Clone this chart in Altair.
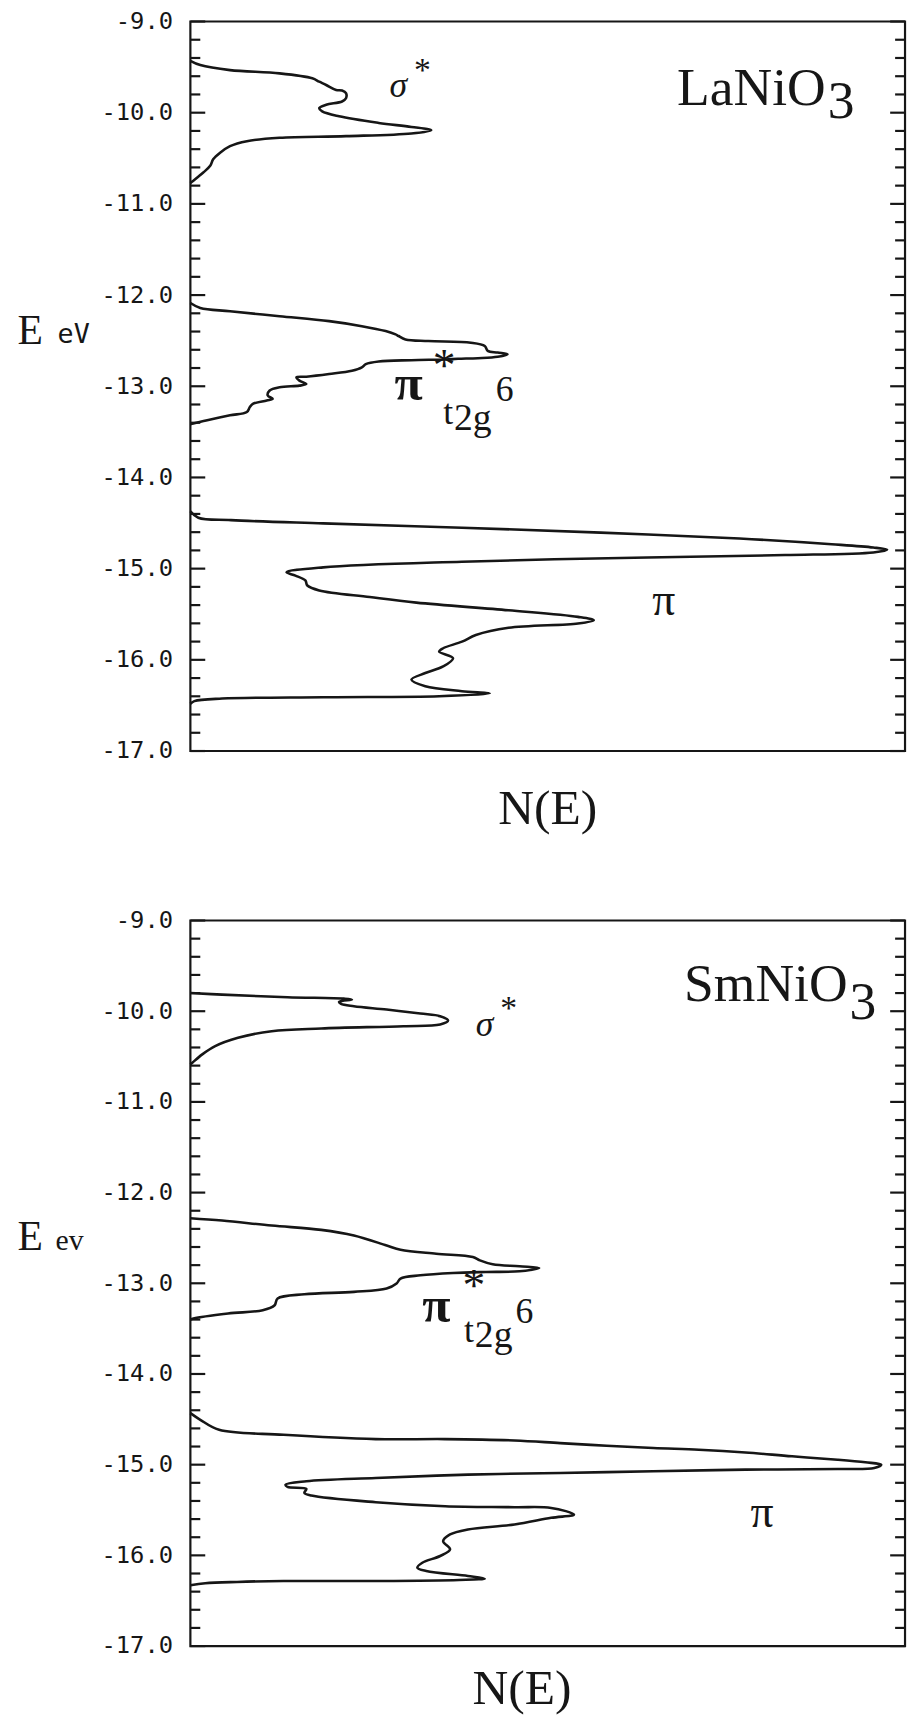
import altair as alt
import pandas as pd

# ---------------- data (E in eV, N(E) in arbitrary units) ----------------
# LaNiO3
la_sigma_N = [0, 10, 40, 90, 123, 130, 137, 147, 153, 157, 157, 153, 137, 130, 133, 150, 190, 223, 243, 223,
              157, 90, 57, 40, 30, 23, 20, 13, 3, 0]
la_sigma_E = [-9.431, -9.478, -9.533, -9.569, -9.623, -9.660, -9.696, -9.750, -9.757, -9.786, -9.841, -9.877,
              -9.913, -9.949, -9.986, -10.040, -10.112, -10.156, -10.192, -10.228, -10.257, -10.275, -10.312,
              -10.366, -10.438, -10.511, -10.583, -10.656, -10.746, -10.772]

la_pistar_N = [0, 10, 40, 90, 140, 173, 197, 207, 210, 217, 240, 283, 297, 300, 310, 320, 310, 290, 270, 257,
               223, 190, 177, 173, 163, 140, 117, 107, 110, 117, 110, 90, 80, 78, 83, 77, 63, 60, 57, 40,
               17, 3, 0]
la_pistar_E = [-12.087, -12.141, -12.178, -12.232, -12.286, -12.341, -12.395, -12.431, -12.449, -12.486,
               -12.504, -12.522, -12.558, -12.612, -12.630, -12.649, -12.677, -12.692, -12.699, -12.706,
               -12.714, -12.728, -12.757, -12.793, -12.830, -12.866, -12.895, -12.902, -12.938, -12.975,
               -12.993, -13.011, -13.047, -13.101, -13.138, -13.156, -13.192, -13.228, -13.282, -13.319,
               -13.373, -13.409, -13.416]

la_pi_N = [0, 8, 41, 134, 274, 414, 554, 647, 689, 703, 689, 600, 461, 274, 134, 97, 106, 116, 118, 130,
           181, 228, 321, 391, 407, 391, 321, 288, 274, 255, 251, 265, 255, 237, 223, 237, 274, 302, 251, 134,
           32, 4, 0]
la_pi_E = [-14.370, -14.442, -14.468, -14.504, -14.551, -14.605, -14.670, -14.732, -14.768, -14.793,
           -14.822, -14.851, -14.877, -14.924, -14.986, -15.040, -15.076, -15.130, -15.185, -15.239,
           -15.312, -15.373, -15.457, -15.529, -15.565, -15.601, -15.649, -15.728, -15.801, -15.873,
           -15.910, -15.982, -16.073, -16.145, -16.217, -16.290, -16.344, -16.370, -16.399, -16.410,
           -16.425, -16.453, -16.482]

# SmNiO3
sm_sigma_N = [0, 32, 98, 155, 163, 150, 152, 165, 198, 232, 252, 260, 252, 215, 132, 82, 48, 25, 12, 2, 0]
sm_sigma_E = [-9.799, -9.817, -9.846, -9.861, -9.872, -9.897, -9.919, -9.945, -9.982, -10.026, -10.055,
              -10.103, -10.146, -10.165, -10.190, -10.220, -10.293, -10.385, -10.476, -10.568, -10.586]

sm_pistar_N = [0, 32, 82, 132, 165, 198, 212, 248, 285, 292, 305, 332, 352, 332, 298, 265, 232, 212, 208, 198,
               165, 115, 88, 85, 73, 38, 3, 0]
sm_pistar_E = [-12.282, -12.308, -12.363, -12.411, -12.473, -12.583, -12.630, -12.674, -12.711, -12.747,
               -12.791, -12.813, -12.832, -12.868, -12.875, -12.886, -12.912, -12.948, -13.003, -13.058,
               -13.095, -13.121, -13.168, -13.242, -13.297, -13.333, -13.388, -13.399]

sm_pi_N = [0, 10, 29, 94, 187, 257, 327, 373, 420, 467, 513, 560, 607, 653, 681, 697, 690, 653, 560, 467,
           373, 280, 187, 117, 96, 98, 117, 115, 122, 187, 257, 327, 364, 387, 364, 327, 280, 262, 255, 262,
           252, 234, 229, 238, 280, 297, 271, 187, 94, 47, 15, 0]
sm_pi_E = [-14.432, -14.505, -14.615, -14.670, -14.718, -14.718, -14.733, -14.762, -14.791, -14.817,
           -14.835, -14.865, -14.908, -14.945, -14.974, -15.000, -15.037, -15.048, -15.055, -15.073,
           -15.092, -15.110, -15.147, -15.183, -15.220, -15.245, -15.267, -15.311, -15.341, -15.414,
           -15.458, -15.469, -15.477, -15.550, -15.586, -15.659, -15.714, -15.769, -15.843, -15.934,
           -16.007, -16.081, -16.136, -16.172, -16.227, -16.256, -16.271, -16.282, -16.282, -16.293,
           -16.308, -16.330]

major_ticks = [-9.0, -10.0, -11.0, -12.0, -13.0, -14.0, -15.0, -16.0, -17.0]
minor_ticks = [-9.2, -9.4, -9.6, -9.8, -10.2, -10.4, -10.6, -10.8, -11.2, -11.4, -11.6, -11.8,
               -12.2, -12.4, -12.6, -12.8, -13.2, -13.4, -13.6, -13.8, -14.2, -14.4, -14.6, -14.8,
               -15.2, -15.4, -15.6, -15.8, -16.2, -16.4, -16.6, -16.8]

# ---------------- style ----------------
INK = "#161616"
SERIF = "Liberation Serif"
MONO = "DejaVu Sans Mono"
W = 721
N_MAX = 721

xscale = alt.Scale(domain=[0, N_MAX], nice=False, zero=False)
yscale = alt.Scale(domain=[-17, -9], nice=False, zero=False)


def curves_df(bands):
    rows = []
    for name, ns, es in bands:
        for i, (n, e) in enumerate(zip(ns, es)):
            rows.append({"band": name, "i": i, "N": n, "E": e})
    return pd.DataFrame(rows)


def panel(bands, height, e_title_y, ne_x, ne_y, label_specs):
    df = curves_df(bands)
    xaxis = alt.Axis(title="N(E)", labels=False, ticks=False, domain=False, grid=False,
                     titleFont=SERIF, titleFontSize=50, titleFontWeight="normal", titleColor=INK,
                     titleX=ne_x, titleY=ne_y, titleAlign="center", titleBaseline="alphabetic")
    yaxis = alt.Axis(values=major_ticks, labelExpr="'-' + format(abs(datum.value), '.1f')",
                     labelFont=MONO, labelFontSize=24, labelColor=INK, labelPadding=18,
                     ticks=False, tickSize=0, domain=False, grid=False,
                     title="E", titleFont=SERIF, titleFontSize=42, titleFontWeight="normal",
                     titleColor=INK, titleAngle=0, titleAlign="left", titleBaseline="alphabetic",
                     titleX=-175, titleY=e_title_y)
    lines = alt.Chart(df).mark_line(color=INK, strokeWidth=2.6, interpolate="catmull-rom").encode(
        x=alt.X("N:Q", scale=xscale, axis=xaxis),
        y=alt.Y("E:Q", scale=yscale, axis=yaxis),
        detail="band:N",
        order="i:Q",
    )
    maj = pd.DataFrame({"E": major_ticks})
    mnr = pd.DataFrame({"E": minor_ticks})
    ytick = alt.Y("E:Q", scale=yscale, axis=yaxis)
    tl_maj = alt.Chart(maj).mark_rule(color=INK, strokeWidth=2.2).encode(
        y=ytick, x=alt.value(0), x2=alt.value(15))
    tl_min = alt.Chart(mnr).mark_rule(color=INK, strokeWidth=2.2).encode(
        y=ytick, x=alt.value(0), x2=alt.value(10))
    tr_maj = alt.Chart(maj).mark_rule(color=INK, strokeWidth=2.2).encode(
        y=ytick, x=alt.value(W), x2=alt.value(W - 15))
    tr_min = alt.Chart(mnr).mark_rule(color=INK, strokeWidth=2.2).encode(
        y=ytick, x=alt.value(W), x2=alt.value(W - 10))

    texts = []
    for (txt, n, e, size, style, weight, font, align) in label_specs:
        texts.append(
            alt.Chart(pd.DataFrame({"t": [txt]})).mark_text(
                font=font, fontSize=size, fontStyle=style, fontWeight=weight, align=align,
                baseline="alphabetic", color=INK
            ).encode(
                x=alt.XDatum(n, type="quantitative", scale=xscale, axis=xaxis),
                y=alt.YDatum(e, type="quantitative", scale=yscale, axis=yaxis),
                text="t:N",
            )
        )
    return alt.layer(lines, tl_maj, tl_min, tr_maj, tr_min, *texts).properties(width=W, height=height)


N_, I_, B_ = "normal", "italic", "bold"
top_labels = [
    ("σ", 201, -9.826, 36, I_, N_, SERIF, "left"),
    ("*", 234, -9.652, 34, N_, N_, SERIF, "center"),
    ("LaNiO", 491, -9.913, 54, N_, N_, SERIF, "left"),
    ("3", 643, -10.054, 54, N_, N_, SERIF, "left"),
    ("π", 206, -13.152, 52, N_, B_, SERIF, "left"),
    ("*", 256, -12.94, 46, N_, N_, SERIF, "center"),
    ("t", 255, -13.41, 36, N_, N_, SERIF, "left"),
    ("2g", 266, -13.48, 38, N_, N_, SERIF, "left"),
    ("6", 308, -13.163, 36, N_, N_, SERIF, "left"),
    ("π", 466, -15.511, 46, N_, N_, SERIF, "left"),
    ("eV", -134, -12.522, 27, N_, N_, MONO, "left"),
]

bottom_labels = [
    ("σ", 288, -10.275, 36, I_, N_, SERIF, "left"),
    ("*", 321, -10.088, 34, N_, N_, SERIF, "center"),
    ("SmNiO", 498, -9.89, 54, N_, N_, SERIF, "left"),
    ("3", 665, -10.088, 54, N_, N_, SERIF, "left"),
    ("π", 234, -13.429, 52, N_, B_, SERIF, "left"),
    ("*", 286, -13.19, 46, N_, N_, SERIF, "center"),
    ("t", 276, -13.645, 36, N_, N_, SERIF, "left"),
    ("2g", 287, -13.70, 38, N_, N_, SERIF, "left"),
    ("6", 328, -13.440, 36, N_, N_, SERIF, "left"),
    ("π", 565, -15.69, 46, N_, N_, SERIF, "left"),
    ("ev", -136, -12.637, 30, N_, N_, SERIF, "left"),
]

top = panel([("sigma", la_sigma_N, la_sigma_E), ("pistar", la_pistar_N, la_pistar_E),
             ("pi", la_pi_N, la_pi_E)], 736, 325, 360, 73, top_labels)
bottom = panel([("sigma", sm_sigma_N, sm_sigma_E), ("pistar", sm_pistar_N, sm_pistar_E),
                ("pi", sm_pi_N, sm_pi_E)], 732, 332, 334, 58, bottom_labels)

chart = alt.vconcat(top, bottom, spacing=72).properties(
    padding={"left": 7, "top": -8, "right": 0, "bottom": 0},
    background="white",
).configure_view(stroke=INK, strokeWidth=2.2)

chart.save("out.html", embed_options={"renderer": "svg", "actions": False})
